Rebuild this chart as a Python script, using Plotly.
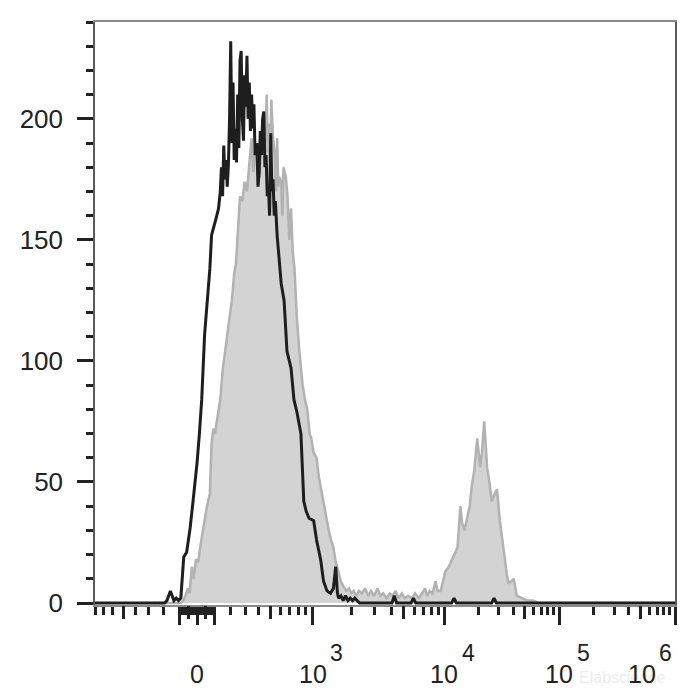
import numpy as np
import plotly.graph_objects as go

# ---- biexponential display scale (value -> channel 0..1000) ----
ANCHOR_VALUES = [-1000, 0, 1000, 1e4, 1e5, 1e6]
ANCHOR_CHANNELS = [-24, 176, 375, 602, 800, 1000]


def to_channel(v):
    v = np.asarray(v, dtype=float)
    s = np.arcsinh(v / 400.0)
    return np.interp(s, np.arcsinh(np.array(ANCHOR_VALUES) / 400.0), ANCHOR_CHANNELS)


# ---- data (channel, count) ----
gray_x = [100, 148, 152, 156, 160, 163, 167, 170, 174, 178, 182, 186, 189, 193, 198, 201, 204, 207,
          210, 213, 216, 220, 224, 228, 232, 236, 240, 243, 246, 250, 254, 258, 262, 266, 270, 273,
          276, 280, 284, 288, 292, 294, 296, 298, 300, 302, 304, 307, 310, 312, 314, 316, 318, 321,
          323, 325, 329, 332, 335, 338,
          341, 344, 348, 352, 355, 358, 362, 366, 370, 373, 377, 382, 386, 391, 395, 399, 403, 407,
          411, 415, 420, 424, 428, 433, 438, 442, 446, 450, 455, 460, 466, 471, 476, 481, 487, 492,
          497, 503, 508, 513, 518, 524, 529, 534, 540, 546, 552, 558, 564, 569, 573, 577, 582, 587,
          591, 596, 600, 604, 610, 616, 620, 625, 630, 633, 637, 642, 646, 650, 654, 659, 664, 667,
          671, 674, 676, 680, 684, 689, 693, 698, 702, 707, 710, 713, 718, 722, 727, 735, 745, 755,
          765, 1000]
gray_y = [0, 0, 1, 3, 6, 4, 15, 10, 18, 17, 24, 30, 35, 40, 45, 66, 72, 70,
          75, 80, 84, 96, 104, 110, 118, 125, 136, 140, 152, 168, 166, 174, 170, 182, 192, 178,
          186, 188, 176, 196, 203, 190, 210, 186, 198, 182, 208, 192, 185, 170, 192, 172, 176, 174,
          160, 180, 176, 168, 150, 163,
          145, 138, 118, 105, 97, 90, 84, 80, 70, 68, 62, 60, 52, 45, 40, 35, 30, 26,
          23, 17, 12, 9, 7, 5, 6, 4, 5, 3, 5, 4, 6, 3, 5, 3, 6, 3,
          4, 2, 4, 3, 5, 2, 4, 2, 3, 2, 4, 2, 4, 6, 3, 5, 4, 9,
          5, 5, 9, 13, 15, 18, 20, 23, 40, 33, 30, 35, 40, 49, 55, 68, 56, 62,
          75, 64, 56, 50, 42, 45, 47, 34, 26, 18, 12, 8, 9, 10, 3, 2, 1, 1,
          0, 0]

black_x = [0, 120, 124, 127, 130, 133, 136, 140, 144, 148, 151, 153, 158, 164, 169, 172, 176, 180,
           184, 189, 194, 198, 201, 206, 210, 213, 216, 218, 220, 222, 224, 226, 228, 230, 232, 234,
           236, 238, 240, 242, 244, 246, 248, 250, 252, 254, 256, 258, 260, 262, 264, 266, 268, 270,
           272, 274, 276, 279, 281, 283, 285, 287, 289, 291, 293, 295, 297, 299, 301, 303, 305, 307,
           309, 311, 314, 321, 326, 331, 338, 343, 348, 355, 360, 364, 369, 377, 382, 389, 394, 400,
           406, 411, 415, 418, 420, 424, 428, 432, 436, 440, 444, 448, 452, 456, 465, 512, 516, 520,
           530, 545, 549, 553, 565, 615, 619, 623, 640, 684, 688, 692, 700, 1000]
black_y = [0, 0, 1, 3, 5, 3, 1, 2, 1, 2, 12, 19, 21, 31, 42, 48, 58, 70,
           84, 111, 125, 138, 152, 156, 160, 163, 170, 180, 168, 189, 175, 183, 172, 181, 200, 232,
           190, 215, 183, 196, 182, 210, 188, 224, 228, 200, 191, 218, 205, 226, 200, 215, 195, 210,
           196, 206, 185, 190, 172, 178, 195, 185, 200, 203, 180, 185, 168, 172, 160, 194, 170, 175,
           160, 166, 152, 132, 125, 104, 97, 84, 79, 70, 42, 38, 35, 34, 26, 18, 9, 5,
           4, 6, 15, 4, 2, 3, 1, 3, 1, 2, 1, 2, 1, 0, 0, 0, 3, 0,
           0, 0, 2, 0, 0, 0, 2, 0, 0, 0, 2, 0, 0, 0]

y_ticks = [0, 50, 100, 150, 200]

long_tick_values = [-100, 0, 100, 1e3, 1e4, 1e5, 1e6]
medium_tick_values = [-500, -50, 50, 500, 5e3, 5e4, 5e5]
short_tick_values = ([-800, -700, -600, -400, -300, -200]
                     + [v for v in range(-90, 100, 10) if v not in (-50, 0, 50)]
                     + [200, 300, 400, 600, 700, 800, 900]
                     + [m * 1e3 for m in (2, 3, 4, 6, 7, 8, 9)]
                     + [m * 1e4 for m in (2, 3, 4, 6, 7, 8, 9)]
                     + [m * 1e5 for m in (2, 3, 4, 6, 7, 8, 9)])

decade_labels = [(0, "0", None), (1e3, "10", "3"), (1e4, "10", "4"), (1e5, "10", "5"), (1e6, "10", "6")]

FONT = "Liberation Sans, Arial, sans-serif"
TXT = "#222222"

fig = go.Figure()
fig.add_trace(go.Scatter(x=gray_x, y=gray_y, mode="lines", fill="tozeroy",
                         fillcolor="#d3d3d3", line=dict(color="#b2b2b2", width=2.5),
                         hoverinfo="skip", showlegend=False))
fig.add_trace(go.Scatter(x=black_x, y=black_y, mode="lines", xaxis="x2",
                         line=dict(color="#1e1e1e", width=3),
                         hoverinfo="skip", showlegend=False))

XR = [0, 1000]
fig.update_layout(
    width=700, height=700,
    margin=dict(l=81, r=33, t=12, b=103),
    paper_bgcolor="white", plot_bgcolor="white",
    xaxis=dict(range=XR, showgrid=False, zeroline=False, showline=True, linecolor="#8a8a8a",
               linewidth=1.5, mirror=True, ticks="outside", tickmode="array",
               tickvals=list(to_channel(long_tick_values)), ticklen=18, tickwidth=3,
               tickcolor="#222", showticklabels=False,
               minor=dict(tickmode="array", tickvals=list(to_channel(short_tick_values)),
                          ticks="outside", ticklen=8, tickwidth=2.5, tickcolor="#222",
                          showgrid=False)),
    xaxis2=dict(range=XR, overlaying="x", anchor="y", side="bottom", showgrid=False,
                zeroline=False, showline=False, ticks="outside", tickmode="array",
                tickvals=list(to_channel(medium_tick_values)), ticklen=13, tickwidth=3,
                tickcolor="#222", showticklabels=False),
    yaxis=dict(range=[-0.82, 240], showgrid=False, zeroline=False, showline=True,
               linecolor="#5a5a5a", linewidth=1.5, mirror=True, ticks="outside",
               tickmode="array", tickvals=y_ticks, ticklen=16, tickwidth=3, tickcolor="#222",
               tickfont=dict(family=FONT, size=26, color=TXT), ticklabelstandoff=9,
               minor=dict(tickmode="linear", tick0=0, dtick=10, ticks="outside", ticklen=7,
                          tickwidth=2.5, tickcolor="#222", showgrid=False)),
)

annotations = [dict(text="Elabscience", x=1, xref="paper", y=0, yref="paper",
                    xanchor="right", yanchor="middle", xshift=-8, yshift=-72, showarrow=False,
                    font=dict(family=FONT, size=16, color="#ededed"))]
for val, base, exp in decade_labels:
    cx = float(to_channel(val))
    shift = -33 if val >= 1e6 else 0
    annotations.append(dict(text=base, x=cx, xref="x", y=0, yref="paper", xanchor="center",
                            yanchor="middle", xshift=shift, yshift=-69, showarrow=False,
                            font=dict(family=FONT, size=25, color=TXT)))
    if exp:
        eshift = -10 if val >= 1e6 else 24
        annotations.append(dict(text=exp, x=cx, xref="x", y=0, yref="paper", xanchor="center",
                                yanchor="middle", xshift=eshift, yshift=-48, showarrow=False,
                                font=dict(family=FONT, size=23, color=TXT)))
fig.update_layout(annotations=annotations)

fig.write_html("out.html", config={"displayModeBar": False})
